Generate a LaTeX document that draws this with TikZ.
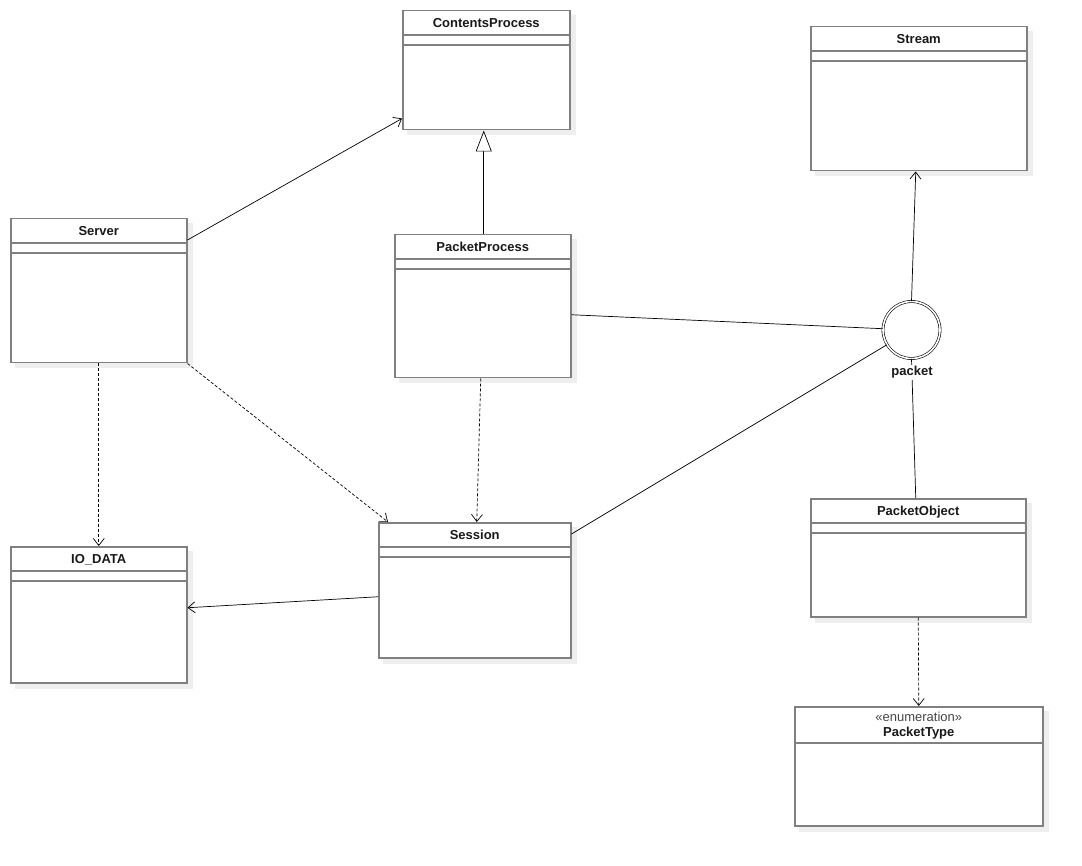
\documentclass[tikz,border=0pt]{standalone}
\usepackage{fontspec}
\setmainfont{Liberation Sans}
\usepackage{tikz}
\usetikzlibrary{
	arrows.meta,
	calc,
	backgrounds
}
\definecolor{BoxGray}{RGB}{128,128,128}
\definecolor{ShadowGray}{RGB}{238,238,238}
\definecolor{StereoGray}{RGB}{70,70,70}
\definecolor{TitleBlack}{RGB}{25,25,25}

\tikzset{
	umlbox/.style={draw=BoxGray, line width=1.5pt, fill=white, anchor=north west, inner sep=0pt},
	sepline/.style={draw=BoxGray, line width=1.5pt},
	umltitle/.style={anchor=base, inner sep=0pt, text=TitleBlack, font=\fontsize{13}{15}\selectfont\bfseries},
	stereo/.style={anchor=base, inner sep=0pt, text=StereoGray, font=\fontsize{13}{15}\selectfont},
	assoc/.style={-{Straight Barb[length=7pt, width=11pt]}, line width=0.7pt},
	depend/.style={assoc, dash pattern=on 3pt off 2pt},
	inherit/.style={-{Triangle[open, length=21pt, width=16pt, fill=white]}, line width=0.7pt},
	link/.style={line width=0.7pt},
	pkcircle/.style={circle, draw, double, double distance=1.6pt, line width=0.6pt, fill=white, minimum size=57pt, inner sep=0pt}
}

\begin{document}
\begin{tikzpicture}[x=1pt, y=-1pt]
	\useasboundingbox (0,0) rectangle (1082,866);

	\node[umlbox, minimum width=167pt, minimum height=119pt] (cp) at (402,10) {};
	\node[umlbox, minimum width=216pt, minimum height=144pt] (stm) at (810,26) {};
	\node[umlbox, minimum width=176pt, minimum height=144pt] (srv) at (10,218) {};
	\node[umlbox, minimum width=176pt, minimum height=143pt] (pp) at (394,234) {};
	\node[umlbox, minimum width=192pt, minimum height=135pt] (ses) at (378,522) {};
	\node[umlbox, minimum width=176pt, minimum height=136pt] (io) at (10,546) {};
	\node[umlbox, minimum width=215pt, minimum height=118pt] (po) at (810,498) {};
	\node[umlbox, minimum width=248pt, minimum height=119pt] (pt) at (794,706) {};

	\begin{scope}[on background layer]
		\foreach \n in {cp,stm,srv,pp,ses,io,po,pt}
			\fill[ShadowGray] ($(\n.north west)+(5,5)$) rectangle ($(\n.south east)+(5,5)$);
	\end{scope}

	\foreach \n in {cp,stm,srv,pp,ses,io,po} {
		\draw[sepline] ($(\n.north west)+(0,25)$) -- ($(\n.north east)+(0,25)$);
		\draw[sepline] ($(\n.north west)+(0,35)$) -- ($(\n.north east)+(0,35)$);
	}
	\draw[sepline] ($(pt.north west)+(0,37)$) -- ($(pt.north east)+(0,37)$);

	\node[umltitle] (cptitle) at ($(cp.north)+(0,17.5)$) {ContentsProcess};
	\node[umltitle] (stmtitle) at ($(stm.north)+(0,17.5)$) {Stream};
	\node[umltitle] (srvtitle) at ($(srv.north)+(0,17.5)$) {Server};
	\node[umltitle] (pptitle) at ($(pp.north)+(0,17.5)$) {PacketProcess};
	\node[umltitle] (sestitle) at ($(ses.north)+(0,17.5)$) {Session};
	\node[umltitle] (iotitle) at ($(io.north)+(0,17.5)$) {IO\_DATA};
	\node[umltitle] (potitle) at ($(po.north)+(0,17.5)$) {PacketObject};
	\node[stereo] (ptstereo) at ($(pt.north)+(0,15)$) {«enumeration»};
	\node[umltitle] (pttitle) at ($(pt.north)+(0,30)$) {PacketType};

	\node[pkcircle] (pk) at (911.5,330) {};

	\draw[assoc] ($(srv.north east)+(0,22)$) -- ($(cp.south west)+(0,-12)$);
	\draw[inherit] ($(pp.north)+(1,0)$) -- ($(pp.north |- cp.south)+(1,0)$);
	\draw[depend] (srv.south) -- (io.north);
	\draw[depend] (srv.south east) -- ($(ses.north west)+(10,0)$);
	\draw[depend] ($(pp.south)+(-2,0)$) -- ($(ses.north)+(2,0)$);
	\draw[assoc] ($(ses.west)+(0,6.5)$) -- ($(io.east)+(0,-7)$);
	\draw[link] ($(pp.east)+(0,8.5)$) -- (pk);
	\draw[link] ($(ses.north east)+(0,12)$) -- (pk);
	\draw[assoc] (pk.north) -- ($(stm.south)+(-3,0)$);
	\draw[link] (pk.south) -- ($(po.north)+(-2.5,0)$);
	\draw[depend] (po.south) -- (pt.north);

	\node[umltitle, fill=white, inner sep=1.5pt] (pklabel) at (912,376) {packet};
\end{tikzpicture}
\end{document}
